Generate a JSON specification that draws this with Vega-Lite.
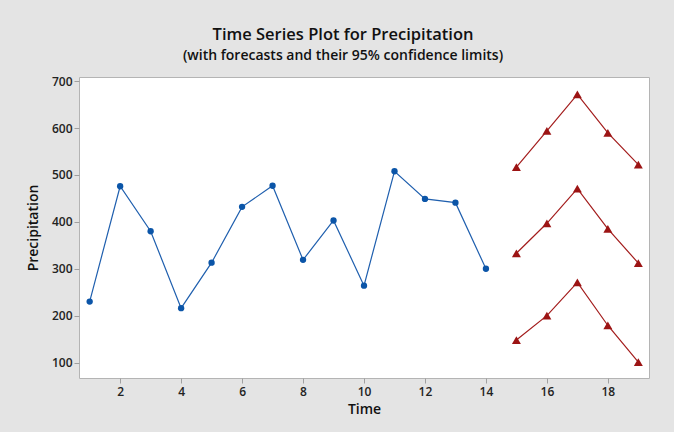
{
  "$schema": "https://vega.github.io/schema/vega-lite/v6.json",
  "autosize": "none",
  "width": 570,
  "height": 301,
  "padding": {"left": 79, "top": 77, "right": 25, "bottom": 54},
  "background": "#e4e4e4",
  "config": {
    "font": "Open Sans",
    "view": {"fill": "white", "stroke": "#b4b4b4", "strokeWidth": 1},
    "axis": {"grid": false, "domain": false, "tickColor": "#a0a0a0", "tickSize": 5, "labelFont": "Open Sans", "labelFontSize": 12, "labelFontWeight": 600, "labelColor": "#222", "titleFont": "Open Sans", "titleFontSize": 14, "titleFontWeight": 600, "titleColor": "#111"}
  },
  "title": {
    "text": "Time Series Plot for Precipitation",
    "subtitle": "(with forecasts and their 95% confidence limits)",
    "anchor": "middle",
    "dx": -21,
    "offset": 12,
    "font": "Open Sans",
    "fontSize": 16.5,
    "fontWeight": 600,
    "color": "#111",
    "subtitleFont": "Open Sans",
    "subtitleFontSize": 14,
    "subtitleFontWeight": 600,
    "subtitleColor": "#111",
    "subtitlePadding": 6
  },
  "datasets": {
    "actual": [
      {"time": 1, "value": 230},
      {"time": 2, "value": 476},
      {"time": 3, "value": 380},
      {"time": 4, "value": 216},
      {"time": 5, "value": 313},
      {"time": 6, "value": 432},
      {"time": 7, "value": 477},
      {"time": 8, "value": 319},
      {"time": 9, "value": 403},
      {"time": 10, "value": 264},
      {"time": 11, "value": 508},
      {"time": 12, "value": 449},
      {"time": 13, "value": 441},
      {"time": 14, "value": 300}
    ],
    "forecast": [
      {"time": 15, "value": 517, "series": "Upper"},
      {"time": 16, "value": 594, "series": "Upper"},
      {"time": 17, "value": 672, "series": "Upper"},
      {"time": 18, "value": 590, "series": "Upper"},
      {"time": 19, "value": 522, "series": "Upper"},
      {"time": 15, "value": 333, "series": "Forecast"},
      {"time": 16, "value": 397, "series": "Forecast"},
      {"time": 17, "value": 471, "series": "Forecast"},
      {"time": 18, "value": 385, "series": "Forecast"},
      {"time": 19, "value": 312, "series": "Forecast"},
      {"time": 15, "value": 148, "series": "Lower"},
      {"time": 16, "value": 200, "series": "Lower"},
      {"time": 17, "value": 271, "series": "Lower"},
      {"time": 18, "value": 179, "series": "Lower"},
      {"time": 19, "value": 101, "series": "Lower"}
    ]
  },
  "encoding": {
    "x": {"field": "time", "type": "quantitative", "scale": {"domain": [0.65, 19.35], "nice": false, "zero": false}, "axis": {"values": [2, 4, 6, 8, 10, 12, 14, 16, 18], "title": "Time", "labelPadding": 3, "titlePadding": 5}},
    "y": {"field": "value", "type": "quantitative", "scale": {"domain": [67, 709], "nice": false, "zero": false}, "axis": {"values": [100, 200, 300, 400, 500, 600, 700], "title": "Precipitation", "labelPadding": 2, "titlePadding": 11}}
  },
  "layer": [
    {"data": {"name": "actual"}, "mark": {"type": "line", "color": "#1f5fae", "strokeWidth": 1.2}},
    {"data": {"name": "actual"}, "mark": {"type": "point", "filled": true, "shape": "circle", "size": 40, "color": "#0b55a8", "opacity": 1}},
    {"data": {"name": "forecast"}, "mark": {"type": "line", "color": "#a31c1c", "strokeWidth": 1.2}, "encoding": {"detail": {"field": "series"}}},
    {"data": {"name": "forecast"}, "mark": {"type": "point", "filled": true, "shape": "triangle-up", "size": 80, "color": "#9c1414", "opacity": 1}}
  ]
}
